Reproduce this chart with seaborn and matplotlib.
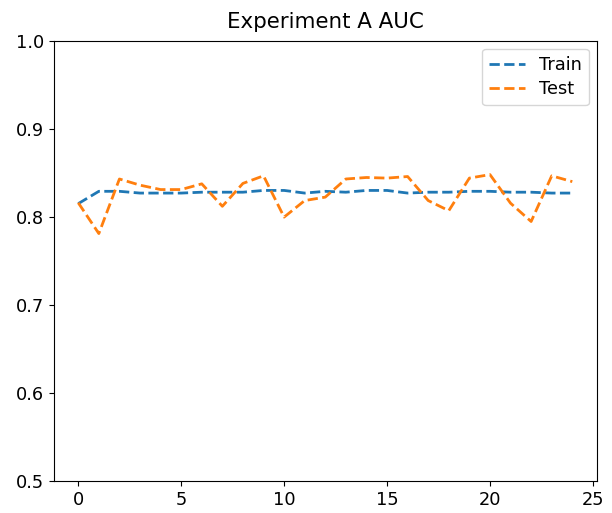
import matplotlib
matplotlib.use("Agg")
import matplotlib.pyplot as plt
import seaborn as sns
import pandas as pd
import numpy as np

epochs = list(range(25))
train_auc = [0.815, 0.829, 0.829, 0.827, 0.827, 0.827, 0.828, 0.828, 0.828, 0.830,
             0.830, 0.827, 0.829, 0.828, 0.830, 0.830, 0.827, 0.828, 0.828, 0.829,
             0.829, 0.828, 0.828, 0.827, 0.827]
test_auc = [0.816, 0.781, 0.843, 0.836, 0.831, 0.831, 0.8375, 0.812, 0.838, 0.8466,
            0.7997, 0.8185, 0.8224, 0.843, 0.8447, 0.844, 0.8458, 0.8185, 0.807, 0.844,
            0.848, 0.8155, 0.7947, 0.8466, 0.840]

df = pd.DataFrame({"epoch": epochs * 2,
                   "auc": train_auc + test_auc,
                   "set": ["Train"] * 25 + ["Test"] * 25})

plt.rcParams['font.size'] = 12.8
fig = plt.figure(figsize=(6.12, 5.13), dpi=100)
ax = fig.add_axes([0.0875, 0.0625, 0.888, 0.858])
sns.lineplot(data=df, x="epoch", y="auc", hue="set", ax=ax,
             palette=["#1f77b4", "#ff7f0e"], linestyle="--", linewidth=2)
for l in ax.get_lines():
    l.set_linestyle("--")
ax.set_ylim(0.5, 1.0)
ax.set_xlabel("")
ax.set_ylabel("")
ax.set_title("Experiment A AUC", fontsize=15.4, pad=9)
leg = ax.legend(loc="upper right", labelspacing=0.35, borderaxespad=0.45)
for l in leg.get_lines():
    l.set_linestyle("--")
fig.savefig("out.png", dpi=100)
